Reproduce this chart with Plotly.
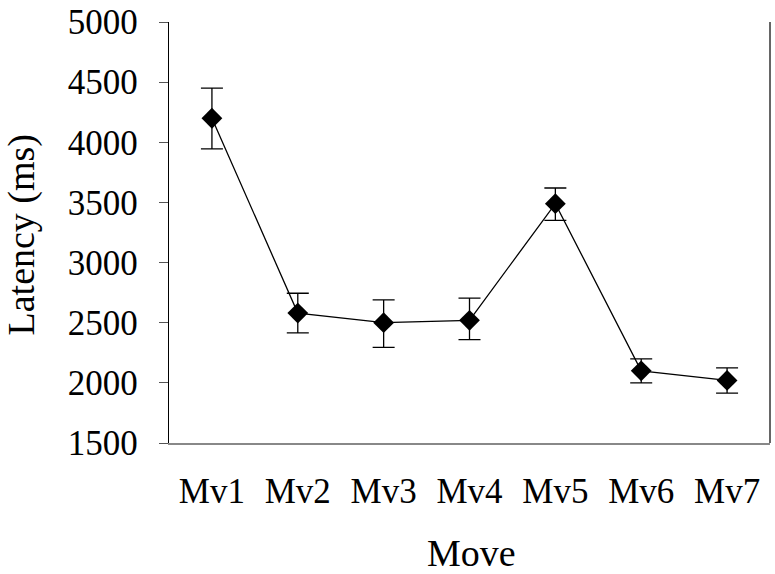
import plotly.graph_objects as go

moves = ["Mv1", "Mv2", "Mv3", "Mv4", "Mv5", "Mv6", "Mv7"]
latency = [4200, 2580, 2500, 2520, 3490, 2100, 2020]
err_plus = [250, 165, 190, 185, 130, 100, 105]
err_minus = [255, 165, 205, 160, 140, 100, 105]
y_ticks = [1500, 2000, 2500, 3000, 3500, 4000, 4500, 5000]

FONT = "Liberation Serif, Times New Roman, serif"

fig = go.Figure()
fig.add_trace(go.Scatter(
    x=moves, y=latency,
    mode="lines+markers",
    line=dict(color="black", width=1.3),
    marker=dict(symbol="diamond", size=16, color="black"),
    error_y=dict(type="data", symmetric=False, array=err_plus, arrayminus=err_minus,
                 color="black", thickness=1.3, width=11),
    showlegend=False,
))

fig.update_layout(
    width=775, height=574,
    margin=dict(l=169, r=5, t=22, b=131),
    paper_bgcolor="white", plot_bgcolor="white",
    font=dict(family=FONT, color="black"),
    xaxis=dict(
        range=[-0.5, 6.5],
        showgrid=False, zeroline=False,
        showline=True, linecolor="#888888", linewidth=1.5,
        ticks="", tickfont=dict(size=35, family=FONT),
        ticklabelstandoff=16,
        automargin=False,
    ),
    yaxis=dict(
        range=[1500, 5000],
        tickvals=y_ticks,
        showgrid=False, zeroline=False,
        showline=True, linecolor="black", linewidth=1.3,
        ticks="outside", ticklen=9, tickwidth=1, tickcolor="#555555",
        tickfont=dict(size=35, family=FONT),
        ticklabelstandoff=14,
        automargin=False,
    ),
    shapes=[dict(type="line", xref="paper", yref="paper", x0=1, x1=1, y0=0, y1=1,
                 line=dict(color="#333333", width=1.5))],
    annotations=[
        dict(text="Move", xref="paper", yref="paper", x=0.503, y=0,
             yshift=-110, xanchor="center", yanchor="middle", showarrow=False,
             font=dict(size=38, family=FONT)),
        dict(text="Latency (ms)", xref="paper", yref="paper", x=0, y=0.5,
             xshift=-148, yshift=-2, xanchor="center", yanchor="middle", textangle=-90,
             showarrow=False, font=dict(size=38, family=FONT)),
    ],
)

fig.write_html("out.html", config={"displayModeBar": False},
               post_script="document.body.style.margin='0px';")
